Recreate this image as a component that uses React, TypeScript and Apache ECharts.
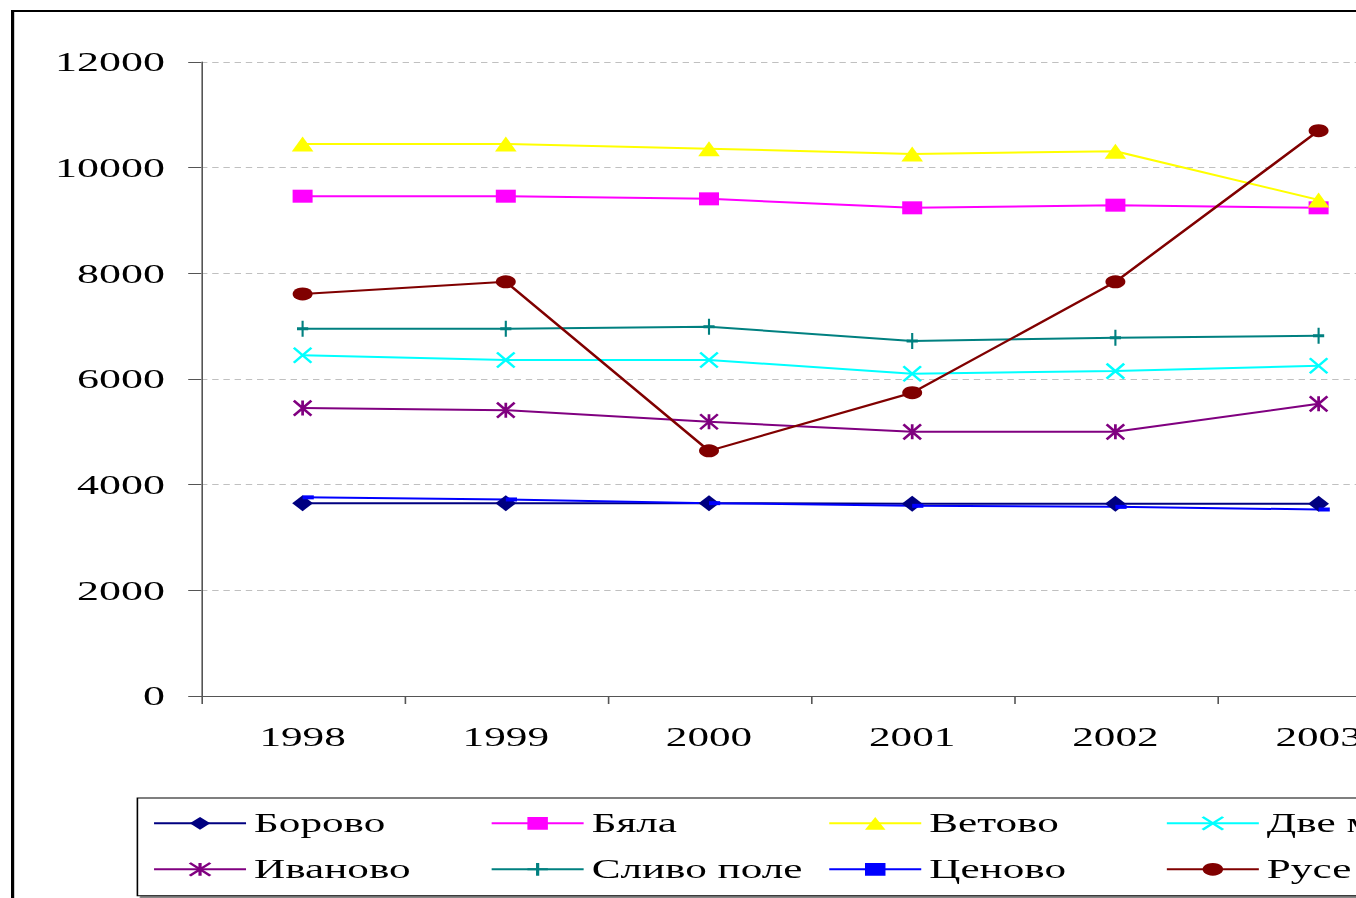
import React, { useEffect, useRef } from "react";
import * as echarts from "echarts";

const years = ["1998", "1999", "2000", "2001", "2002", "2003"];
const seriesNames = ["Борово", "Бяла", "Ветово", "Две могили", "Иваново", "Сливо поле", "Ценово", "Русе"];
const borovo = [3650, 3650, 3650, 3640, 3640, 3640];
const byala = [9460, 9460, 9410, 9240, 9290, 9240];
const vetovo = [10450, 10450, 10360, 10260, 10310, 9390];
const dveMogili = [6450, 6360, 6360, 6100, 6150, 6250];
const ivanovo = [5450, 5410, 5190, 5000, 5000, 5530];
const slivoPole = [6950, 6950, 6990, 6720, 6780, 6820];
const tsenovo = [3760, 3720, 3650, 3600, 3580, 3530];
const ruse = [7610, 7840, 4640, 5740, 7840, 10700];
const yMin = 0;
const yMax = 12000;
const yStep = 2000;

const FONT = "'Liberation Serif', 'Times New Roman', serif";
const SX = 1.6;
const W = 1000;
const H = 900;

export default function App() {
  const ref = useRef<HTMLDivElement>(null);
  useEffect(() => {
    if (!ref.current) return;
    const chart = echarts.init(ref.current, undefined, { renderer: "svg" });
    const mk = (
      name: string,
      data: number[],
      color: string,
      symbol: string,
      symbolSize: number[],
      extra: any = {}
    ) => ({
      name,
      type: "line",
      data,
      symbol,
      symbolSize,
      showSymbol: true,
      lineStyle: { color, width: 2 },
      itemStyle: { color, ...(extra.itemStyle || {}) },
      emphasis: { disabled: true },
      ...(extra.symbolOffset ? { symbolOffset: extra.symbolOffset } : {}),
    });
    const seriesData = [borovo, byala, vetovo, dveMogili, ivanovo, slivoPole, tsenovo, ruse];
    const stroked = (c: string) => ({ itemStyle: { borderColor: c, borderWidth: 2 } });
    chart.setOption({
      animation: false,
      backgroundColor: "#fff",
      textStyle: { fontFamily: FONT },
      graphic: [
        {
          type: "rect",
          shape: { x: 1, y: 1, width: W - 2, height: H - 2 },
          style: { fill: "none", stroke: "#000", lineWidth: 2 },
          silent: true,
          z: 100,
        },
      ],
      grid: { left: 118.75, top: 52, width: 762, height: 634 },
      xAxis: {
        type: "category",
        data: years,
        boundaryGap: true,
        axisLine: { lineStyle: { color: "#555", width: 1 } },
        axisTick: { show: true, length: 8, lineStyle: { color: "#555" } },
        axisLabel: { fontFamily: FONT, fontSize: 27, color: "#000", margin: 28 },
        splitLine: { show: false },
      },
      yAxis: {
        type: "value",
        min: yMin,
        max: yMax,
        interval: yStep,
        axisLine: { show: true, lineStyle: { color: "#555", width: 1 } },
        axisTick: { show: true, length: 8, lineStyle: { color: "#555" } },
        axisLabel: {
          fontFamily: FONT,
          fontSize: 27.5,
          color: "#000",
          margin: 22.5,
          padding: [0, 0, 6, 0],
          formatter: (v: number) => String(v),
        },
        splitLine: { show: true, lineStyle: { color: "#c0c0c0", type: [4, 3], width: 1 } },
      },
      legend: {
        data: seriesNames,
        left: 79,
        top: 788,
        width: 840,
        orient: "horizontal",
        itemWidth: 57.5,
        itemHeight: 16,
        itemGap: 15,
        padding: [9.8, 10, 11, 9.4],
        borderColor: "#000",
        borderWidth: 1,
        backgroundColor: "#fff",
        shadowColor: "#808080",
        shadowOffsetX: 2,
        shadowOffsetY: 2,
        shadowBlur: 0,
        selectedMode: false,
        textStyle: { fontFamily: FONT, fontSize: 27, color: "#000", width: 132.5, lineHeight: 31 },
      },
      series: [
        mk(seriesNames[0], seriesData[0], "#000080", "diamond", [13, 16]),
        mk(seriesNames[1], seriesData[1], "#ff00ff", "rect", [12.5, 13]),
        mk(seriesNames[2], seriesData[2], "#ffff00", "triangle", [13.5, 15]),
        mk(seriesNames[3], seriesData[3], "#00ffff", "path://M0,0L10,10M10,0L0,10", [11, 15], stroked("#00ffff")),
        mk(seriesNames[4], seriesData[4], "#800080", "path://M0,0L10,10M10,0L0,10M5,0L5,10", [11, 15], stroked("#800080")),
        mk(seriesNames[5], seriesData[5], "#008080", "path://M5,0L5,10M0,5L10,5", [7, 16], stroked("#008080")),
        mk(seriesNames[6], seriesData[6], "#0000ff", "rect", [7, 4], { symbolOffset: [3.5, 0] }),
        mk(seriesNames[7], seriesData[7], "#800000", "circle", [12.5, 13]),
      ],
    });
    return () => chart.dispose();
  }, []);
  return (
    <div style={{ position: "fixed", left: 0, top: 0, width: 1356, height: 898, overflow: "hidden", background: "#fff" }}>
      <div
        ref={ref}
        style={{
          position: "absolute",
          left: 11,
          top: 10,
          width: W,
          height: H,
          transform: `scaleX(${SX})`,
          transformOrigin: "0 0",
        }}
      />
    </div>
  );
}
